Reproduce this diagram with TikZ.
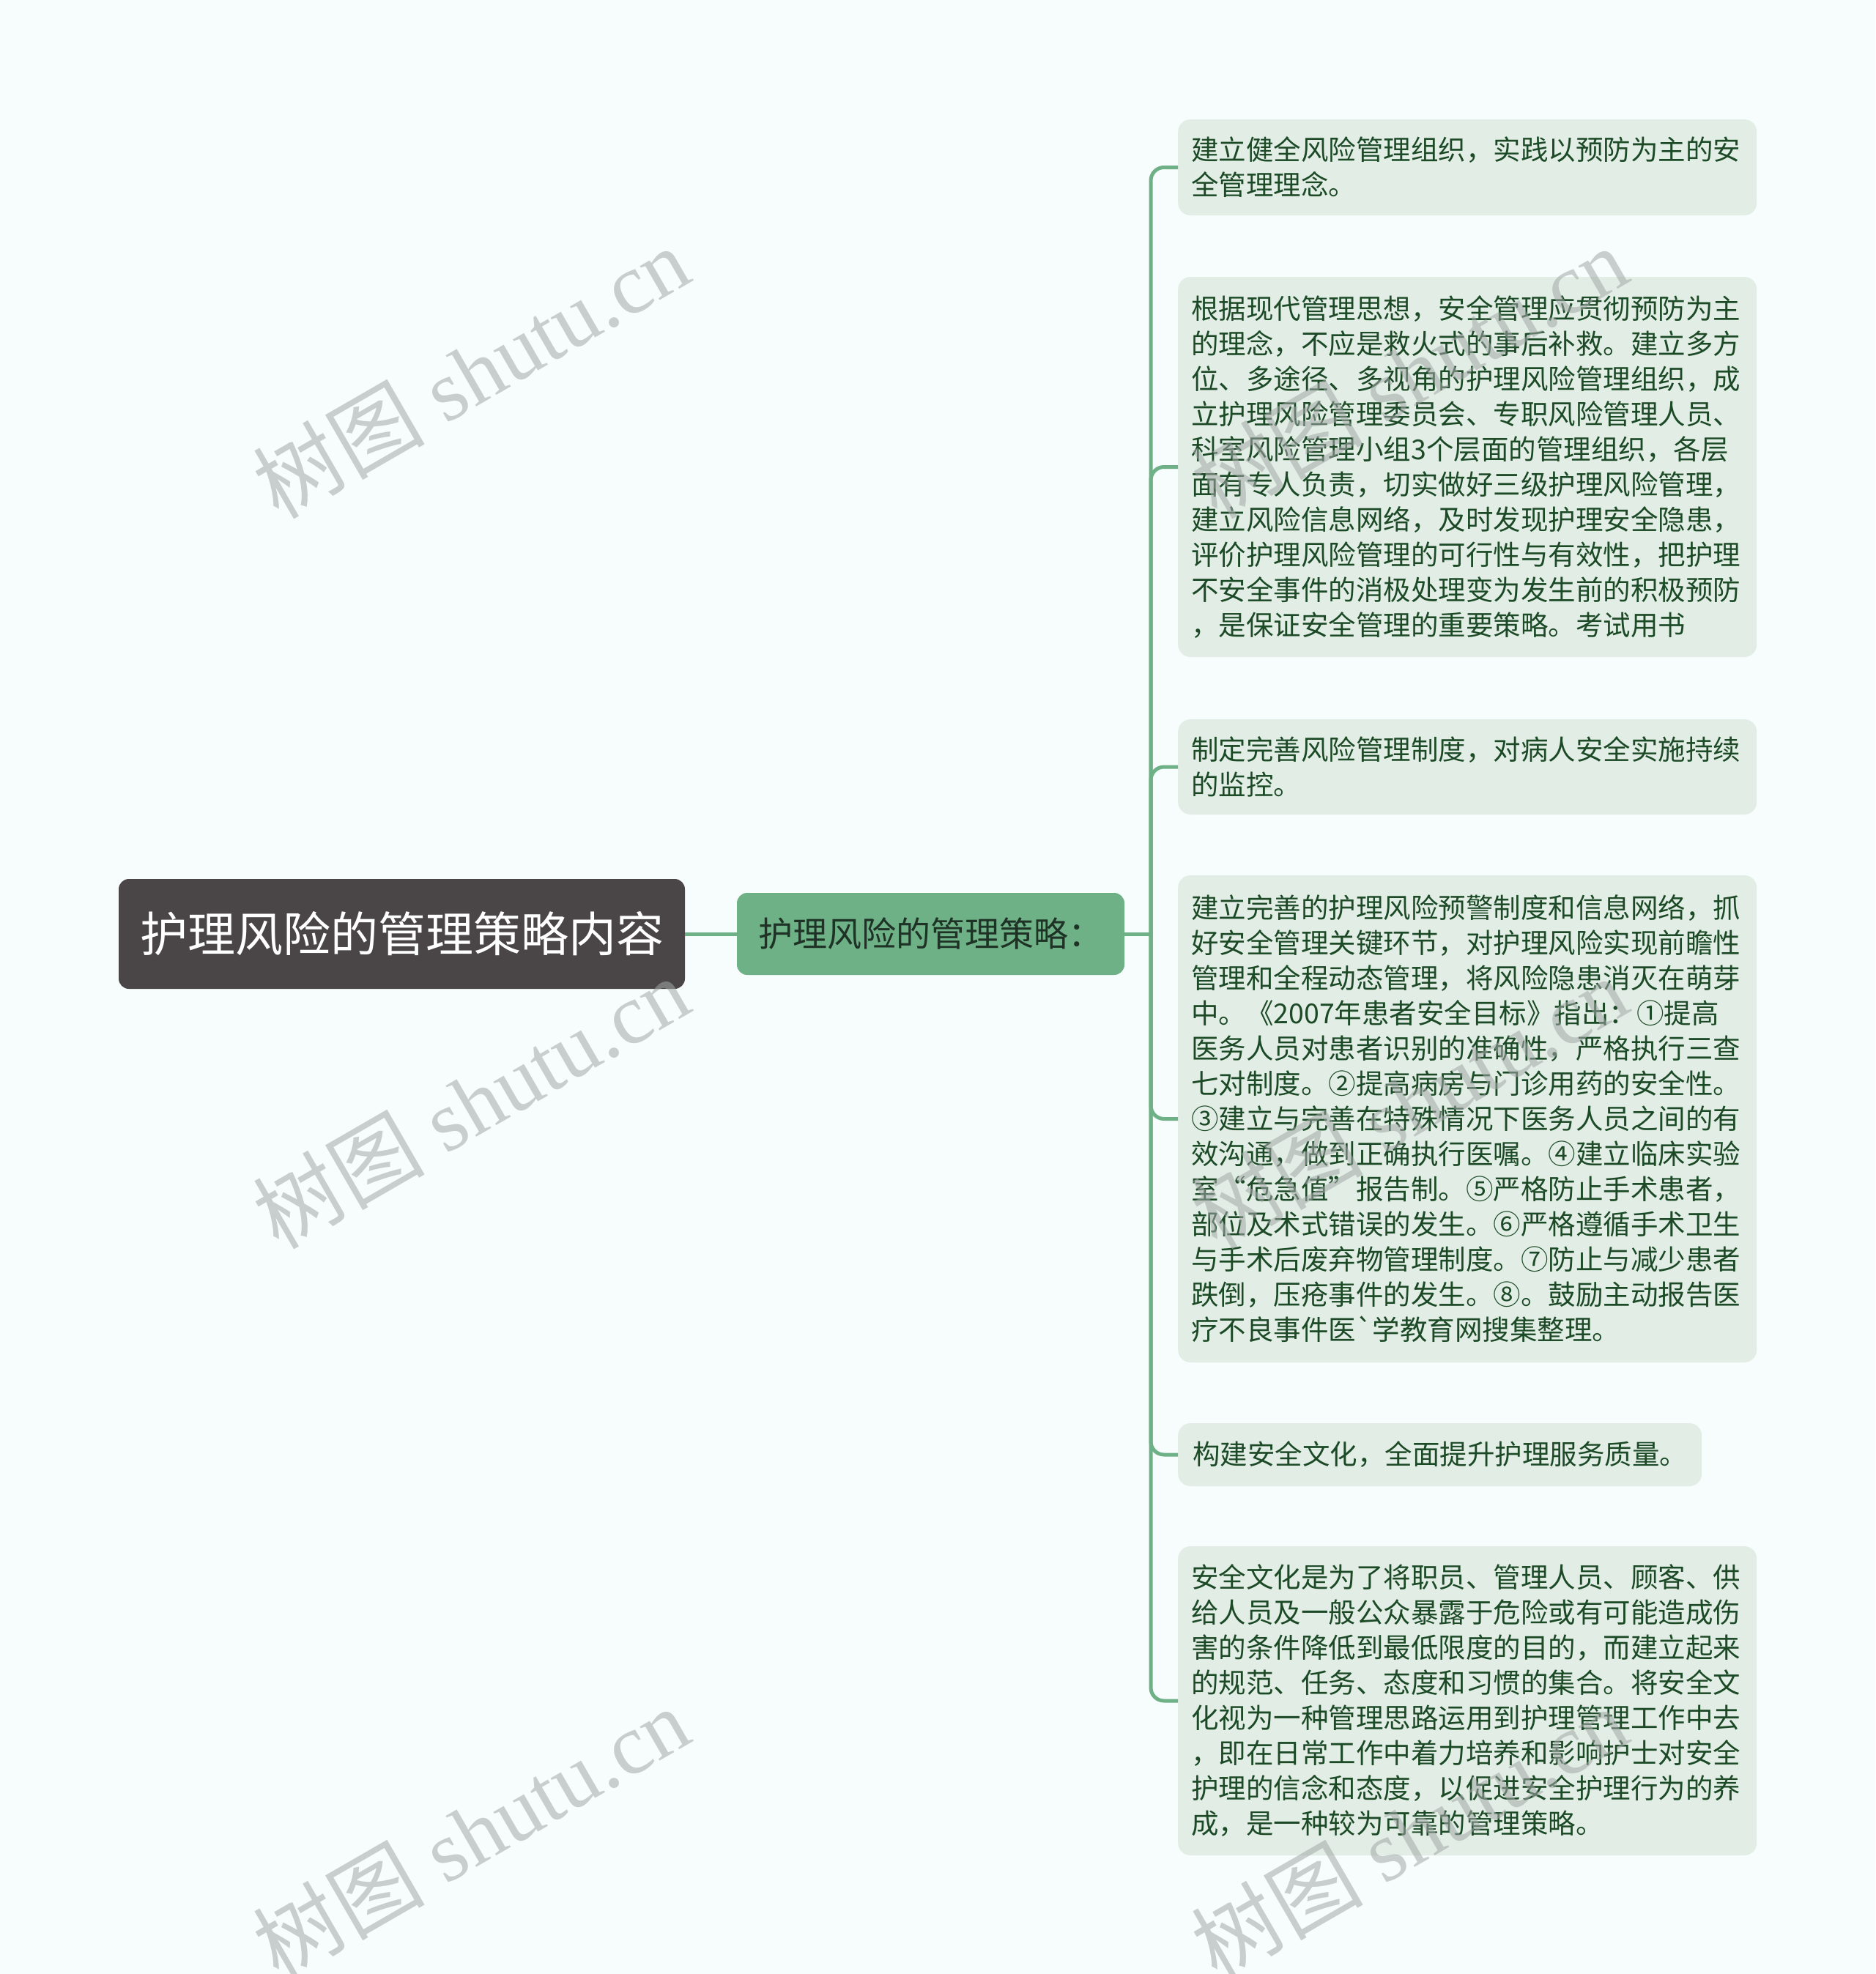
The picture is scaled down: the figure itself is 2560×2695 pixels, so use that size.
\documentclass[tikz,border=0pt]{standalone}
\usepackage{fontspec}
\newfontfamily\cjk{Noto Sans CJK SC}
\newfontfamily\wmlatin{Liberation Serif}
\definecolor{bgc}{HTML}{F7FCFC}
\definecolor{rootbg}{HTML}{4A4546}
\definecolor{midbg}{HTML}{6FB186}
\definecolor{linkc}{HTML}{6FB186}
\definecolor{leafbg}{HTML}{E2EEE5}
\definecolor{leaftx}{HTML}{1C4A27}
\definecolor{midtx}{HTML}{1E3326}
\definecolor{wmc}{HTML}{A3A8A8}
\tikzset{
  rootbox/.style={fill=rootbg, rounded corners=14pt, text=white, minimum width=773pt, minimum height=150pt, inner sep=0pt, font=\cjk\fontsize{65pt}{78pt}\selectfont},
  midbox/.style={fill=midbg, rounded corners=14pt, text=midtx, minimum width=529pt, minimum height=112pt, inner sep=0pt, font=\cjk\fontsize{47pt}{56pt}\selectfont},
  leafbox/.style={fill=leafbg, rounded corners=17pt, text=leaftx, anchor=west, align=left, text width=754pt, inner xsep=18pt, inner ysep=0pt, font=\cjk\fontsize{37.5pt}{48pt}\selectfont},
  leafshort/.style={fill=leafbg, rounded corners=17pt, text=leaftx, anchor=west, inner xsep=20pt, inner ysep=0pt, font=\cjk\fontsize{37.5pt}{48pt}\selectfont},
  link/.style={draw=linkc, line width=5pt},
  wm/.style={text=wmc, opacity=0.55, rotate=30, inner sep=0pt, font=\wmlatin\fontsize{117pt}{126pt}\selectfont},
}
\begin{document}
\begin{tikzpicture}[x=1pt,y=-1pt]
\fill[bgc] (0,0) rectangle (2560,2695);
\useasboundingbox (0,0) rectangle (2560,2695);

\node[rootbox] (root) at (548.5,1275) {护理风险的管理策略内容};
\node[midbox] (mid) at (1270.5,1275) {护理风险的管理策略：};
\coordinate (bus) at (1571,1275);

\node[leafbox, minimum height=131pt] (l1) at (1608,228.5) {建立健全风险管理组织，实践以预防为主的安\\全管理理念。};
\node[leafbox, minimum height=519pt] (l2) at (1608,637.5) {根据现代管理思想，安全管理应贯彻预防为主\\的理念，不应是救火式的事后补救。建立多方\\位、多途径、多视角的护理风险管理组织，成\\立护理风险管理委员会、专职风险管理人员、\\科室风险管理小组3个层面的管理组织，各层\\面有专人负责，切实做好三级护理风险管理，\\建立风险信息网络，及时发现护理安全隐患，\\评价护理风险管理的可行性与有效性，把护理\\不安全事件的消极处理变为发生前的积极预防\\，是保证安全管理的重要策略。考试用书};
\node[leafbox, minimum height=130pt] (l3) at (1608,1047) {制定完善风险管理制度，对病人安全实施持续\\的监控。};
\node[leafbox, minimum height=665pt] (l4) at (1608,1527.5) {建立完善的护理风险预警制度和信息网络，抓\\好安全管理关键环节，对护理风险实现前瞻性\\管理和全程动态管理，将风险隐患消灭在萌芽\\中。《2007年患者安全目标》指出：①提高\\医务人员对患者识别的准确性，严格执行三查\\七对制度。②提高病房与门诊用药的安全性。\\③建立与完善在特殊情况下医务人员之间的有\\效沟通，做到正确执行医嘱。④建立临床实验\\室“危急值”报告制。⑤严格防止手术患者，\\部位及术式错误的发生。⑥严格遵循手术卫生\\与手术后废弃物管理制度。⑦防止与减少患者\\跌倒，压疮事件的发生。⑧。鼓励主动报告医\\疗不良事件医`学教育网搜集整理。};
\node[leafshort, minimum height=86pt] (l5) at (1608,1986) {构建安全文化，全面提升护理服务质量。};
\node[leafbox, minimum height=422pt] (l6) at (1608,2322) {安全文化是为了将职员、管理人员、顾客、供\\给人员及一般公众暴露于危险或有可能造成伤\\害的条件降低到最低限度的目的，而建立起来\\的规范、任务、态度和习惯的集合。将安全文\\化视为一种管理思路运用到护理管理工作中去\\，即在日常工作中着力培养和影响护士对安全\\护理的信念和态度，以促进安全护理行为的养\\成，是一种较为可靠的管理策略。};

\draw[link] (root.east) -- (mid.west);
\draw[link] (mid.east) -- (bus);
\foreach \n in {l1,l2,l3,l4,l5,l6}
  \draw[link, rounded corners=18pt] (bus) |- (\n.west);

\node[wm] (wm1) at (643,508) {{\cjk 树图} shutu.cn};
\node[wm] (wm2) at (643,1505) {{\cjk 树图} shutu.cn};
\node[wm] (wm3) at (643,2502) {{\cjk 树图} shutu.cn};
\node[wm] (wm4) at (1924,508) {{\cjk 树图} shutu.cn};
\node[wm] (wm5) at (1924,1505) {{\cjk 树图} shutu.cn};
\node[wm] (wm6) at (1924,2502) {{\cjk 树图} shutu.cn};
\end{tikzpicture}
\end{document}
